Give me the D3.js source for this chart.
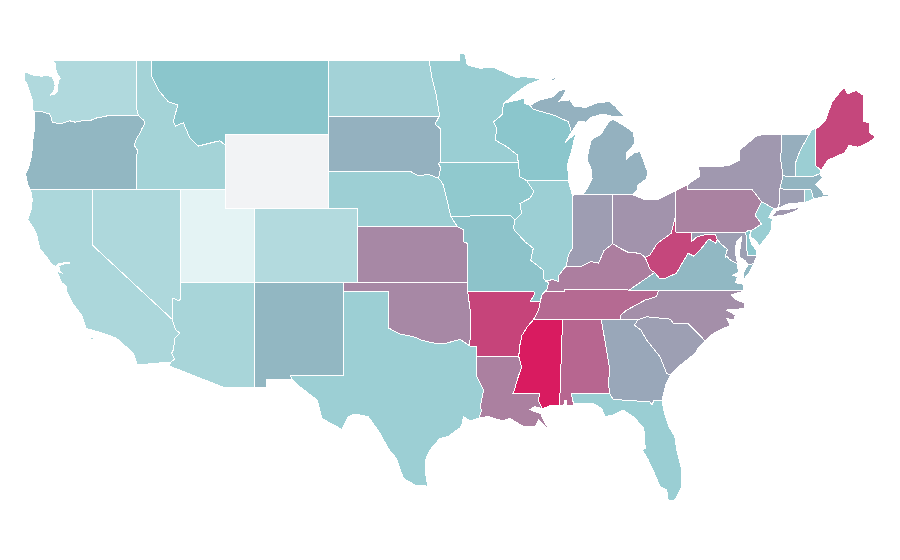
<!DOCTYPE html>
<html>
<head>
<meta charset="utf-8">
<script src="https://d3js.org/d3.v7.min.js"></script>
<style>
  body { margin: 0; background: #fff; }
  .state { stroke: #fff; stroke-width: 1; stroke-linejoin: round; shape-rendering: crispEdges; }
</style>
</head>
<body>
<div id="map"></div>
<script>
// colour value per state: 0 = pale, 1 = teal, 2 = crimson, null = no data
const stateNames = ["WA","OR","CA","NV","ID","MT","WY","UT","CO","AZ","NM","ND","SD","NE","KS","OK","TX","MN","IA","MO","AR","LA","WI","IL","MI","IN","OH","KY","TN","MS","AL","GA","FL","SC","NC","VA","WV","MD","DE","PA","NJ","NY","CT","RI","MA","VT","NH","ME"];
const stateValues = [0.58,1.09,0.63,0.61,0.72,1.0,null,0,0.55,0.67,1.09,0.73,1.12,0.8,1.36,1.36,0.81,0.83,0.94,1.02,1.76,1.41,1.0,0.81,1.12,1.24,1.30,1.42,1.54,2,1.56,1.18,0.83,1.23,1.32,1.08,1.74,1.23,1.0,1.40,0.83,1.27,1.23,0.76,1.1,1.14,0.82,1.74];

// shared borders, lon/lat
const columbia = [[-118.98,46],[-119.3,45.93],[-119.6,45.92],[-120.2,45.73],[-120.65,45.74],[-121.2,45.65],[-121.55,45.72],[-122,45.61],[-122.25,45.55],[-122.75,45.65],[-122.8,45.9],[-122.95,46.1],[-123.2,46.15],[-123.55,46.25],[-123.98,46.25]];
const snakeRiver = [[-117.03,42],[-117.03,43.83],[-116.95,44.1],[-117.2,44.4],[-117.05,44.75],[-116.85,45],[-116.67,45.3],[-116.47,45.6],[-116.55,45.75],[-116.92,46]];
const bitterroot = [[-116.05,49],[-116,48.1],[-115.56,47.38],[-114.89,46.75],[-114.25,46.57],[-114.55,45.67],[-114.39,45.44],[-113.87,45.62],[-113.42,44.78],[-112.86,44.36],[-111.4,44.65],[-111.05,44.42]];
const coloradoNv = [[-114.04,37],[-114.04,36.1],[-114.2,36.03],[-114.62,36.17],[-114.57,35.16],[-114.63,35.02]];
const coloradoCa = [[-114.63,35.02],[-114.39,34.45],[-114.1,34.27],[-114.44,34],[-114.55,33.37],[-114.66,33.2],[-114.45,32.87],[-114.72,32.72]];
const redRiver = [[-100,34.56],[-99.2,34.23],[-98.3,34.09],[-97.74,33.9],[-97.06,33.76],[-96.27,33.69],[-95.14,33.94],[-94.47,33.58]];
const sabine = [[-94.04,33.02],[-94.04,32],[-93.55,31.2],[-93.75,30.4],[-93.7,30.1],[-93.84,29.7]];
const redNd = [[-97.23,49],[-97.06,48.1],[-96.77,47.2],[-96.55,46.13],[-96.56,45.94]];
const bigStone = [[-96.56,45.94],[-96.83,45.55],[-96.45,45.28],[-96.45,43.5]];
const bigSioux = [[-96.45,43.5],[-96.6,43.43],[-96.45,43.18],[-96.6,42.62],[-96.45,42.49]];
const missouriSdNe = [[-104.05,43],[-98.5,43],[-97.96,42.75],[-97.28,42.84],[-96.6,42.62],[-96.45,42.49]];
const missouriNeIa = [[-96.45,42.49],[-96.27,42.26],[-96.04,41.54],[-95.82,40.74],[-95.77,40.58]];
const missouriNeMo = [[-95.77,40.58],[-95.31,40]];
const missouriKs = [[-95.31,40],[-94.9,39.84],[-94.9,39.2],[-94.6,39.1]];
const stCroix = [[-92.2,46.66],[-92.3,46.04],[-92.87,45.67],[-92.65,45.3],[-92.77,44.69],[-91.98,44.33],[-91.26,43.88],[-91.2,43.5]];
const missWiIa = [[-91.2,43.5],[-91.08,42.7],[-90.64,42.5]];
const missIaIl = [[-90.64,42.5],[-90.13,41.9],[-90.42,41.54],[-91.08,41.27],[-90.97,40.74],[-91.42,40.38]];
const missMoIl = [[-91.42,40.38],[-91.53,39.93],[-91.42,39.8],[-90.74,39.2],[-90.18,38.85],[-90.35,38.2],[-89.5,37.67],[-89.5,37.22],[-89.15,37]];
const missMoKy = [[-89.15,37],[-89.27,36.6],[-89.42,36.5]];
const missMoTn = [[-89.42,36.5],[-89.6,36.33],[-89.7,36]];
const missArTn = [[-89.7,36],[-89.83,35.5],[-90.17,35]];
const missArMs = [[-90.17,35],[-90.6,34.6],[-90.95,34.15],[-91.12,33.5],[-91.16,33]];
const missLaMs = [[-91.16,33],[-90.96,32.43],[-91.17,32],[-91.5,31.1],[-91.6,31]];
const pearl = [[-91.6,31],[-89.73,31],[-89.85,30.65],[-89.55,30.2]];
const wabash = [[-87.53,41.7],[-87.53,38.85],[-87.8,38.49],[-87.97,37.85]];
const ohioIlKy = [[-89.15,37],[-89.35,37.05],[-88.9,37.17],[-88.47,37.05],[-88.45,37.4],[-88.05,37.8],[-87.97,37.85]];
const ohioInKy = [[-87.97,37.85],[-86.97,37.85],[-86.3,38.13],[-85.75,38.05],[-85.4,38.72],[-84.8,39.1]];
const ohioOhKy = [[-84.8,39.1],[-84.3,38.85],[-83.75,38.63],[-82.95,38.58],[-82.6,38.35]];
const ohioWv = [[-82.6,38.35],[-82.27,38.5],[-81.8,39.1],[-80.85,39.66],[-80.65,40.3],[-80.52,40.64]];
const tugFork = [[-82.6,38.35],[-82.27,37.7],[-81.97,37.54]];
const wvVa = [[-77.72,39.32],[-77.83,39.13],[-78.3,39.35],[-78.87,38.77],[-79.3,38.42],[-79.7,38.58],[-80.5,37.5],[-81.2,37.25],[-81.6,37.2],[-81.97,37.54]];
const potomac = [[-76.35,38],[-76.9,38.25],[-77.05,38.4],[-77.2,38.35],[-77.04,38.8],[-77.5,39.1],[-77.72,39.32]];
const tnNc = [[-81.68,36.59],[-81.85,36.24],[-82.6,36.06],[-83.85,35.52],[-84.25,35.25],[-84.3,35]];
const savannah = [[-83.33,34.7],[-82.9,34.45],[-82.5,33.9],[-81.6,33],[-81.15,32.1],[-80.88,32.03]];
const alGa = [[-85.58,35],[-85.26,33.55],[-85,32.29],[-85.1,31.57],[-85,31]];
const mbSc = [[-78.55,33.86],[-79.7,34.8],[-80.7,34.8],[-80.9,35.03],[-82.5,35.16],[-83.1,35]];
const gaFl = [[-85,31],[-84.76,30.7],[-82.27,30.57],[-82.15,30.4],[-82,30.67],[-81.47,30.67]];
const lakeMiWi = [[-90.18,46.34],[-88.8,46.03],[-87.8,45.67],[-87.6,45.1]];
const delRiver = [[-74.73,41.36],[-75.17,40.65],[-74.73,40.15],[-75.13,39.95],[-75.42,39.8]];
const nyVt = [[-73.35,45],[-73.43,43.6],[-73.27,42.75]];
const nyMa = [[-73.27,42.75],[-73.5,42.05]];
const nyCt = [[-73.5,42.05],[-73.5,41.3],[-73.65,41]];
const ctRi = [[-71.8,42.02],[-71.8,41.32]];
const vtNh = [[-71.5,45],[-72.1,44.15],[-72.44,43.43],[-72.46,42.73]];
const wvMd = [[-79.48,39.72],[-79.48,39.2],[-79.1,39.47],[-78.75,39.55],[-78.3,39.6],[-77.85,39.58],[-77.72,39.32]];
const rev = a => a.slice().reverse();

// state outlines, each a list of rings
const outlines = {
  WA: [[[-122.76,49],[-117.03,49],[-117.04,46.42],[-116.92,46],...columbia,[-124.07,46.27],[-124.05,46.65],[-124.15,47],[-124.4,47.6],[-124.65,47.97],[-124.65,48.38],[-124.1,48.2],[-123.5,48.13],[-123.1,48.15],[-122.78,48.12],[-122.62,47.88],[-122.55,47.6],[-122.65,47.3],[-122.9,47.1],[-122.6,47.15],[-122.4,47.3],[-122.38,47.6],[-122.3,47.9],[-122.2,48],[-122.4,48.25],[-122.5,48.45],[-122.5,48.75]],
      [[-122.7,48.4],[-122.5,48.1],[-122.35,47.95],[-122.55,48.3]]],
  OR: [[...columbia,[-123.95,45.9],[-123.97,45.2],[-124.07,44.6],[-124.13,43.9],[-124.35,43.2],[-124.55,42.84],[-124.4,42.3],[-124.21,42],[-117.03,42],...snakeRiver]],
  CA: [[[-124.21,42],[-120,42],[-120,39],...coloradoCa,[-117,32.56],[-117.25,33.2],[-118.4,34],[-119.3,34.27],[-120.45,34.53],[-120.65,35],[-120.75,35.25],[-121.3,35.8],[-121.8,36.55],[-121.75,36.78],[-122.1,37],[-122.38,37.5],[-122.45,37.78],[-122.35,37.6],[-122.05,37.5],[-122.25,37.65],[-122.3,37.9],[-122,38],[-121.55,38.06],[-122,38.06],[-122.38,38],[-122.5,37.85],[-122.85,38.05],[-123.1,38.35],[-123.6,38.85],[-123.8,39.6],[-124.1,40.05],[-124.4,40.4],[-124.15,41],[-124.1,41.5]],
      [[-120.15,34],[-119.95,34.05],[-119.95,33.93],[-120.15,33.92]]],
  NV: [[[-120,42],[-114.04,42],...coloradoNv,[-120,39]]],
  ID: [[[-117.03,49],...bitterroot,[-111.05,42],...snakeRiver,[-117.04,46.42]]],
  MT: [[...bitterroot,[-111.05,45],[-104.05,45],[-104.05,49]]],
  WY: [[[-111.05,45],[-104.05,45],[-104.05,41],[-111.05,41]]],
  UT: [[[-114.04,42],[-111.05,42],[-111.05,41],[-109.05,41],[-109.05,37],[-114.04,37]]],
  CO: [[[-109.05,41],[-102.05,41],[-102.05,37],[-109.05,37]]],
  AZ: [[[-114.04,37],[-109.05,37],[-109.05,31.33],[-111.07,31.33],[-114.81,32.5],...rev(coloradoCa),...rev(coloradoNv)]],
  NM: [[[-109.05,37],[-103,37],[-103.04,32],[-106.62,32],[-106.53,31.78],[-108.21,31.78],[-108.21,31.33],[-109.05,31.33]]],
  ND: [[[-104.05,49],...redNd,[-104.05,45.94]]],
  SD: [[[-104.05,45.94],...bigStone,...bigSioux,...rev(missouriSdNe)]],
  NE: [[...missouriSdNe,...missouriNeIa,...missouriNeMo,[-102.05,40],[-102.05,41],[-104.05,41]]],
  KS: [[[-102.05,40],...missouriKs,[-94.62,37],[-102.05,37]]],
  OK: [[[-103,37],[-94.62,37],[-94.62,36.5],[-94.43,35.4],...rev(redRiver),[-100,36.5],[-103.04,36.5]]],
  TX: [[[-103.04,36.5],[-100,36.5],...redRiver,[-94.04,33.55],...sabine,[-94.45,29.55],[-94.9,29.77],[-95,29.4],[-95.14,29.17],[-95.95,28.7],[-96.5,28.6],[-97.2,27.95],[-97.5,27.4],[-97.5,26.8],[-97.3,25.95],[-97.4,26.03],[-98.18,26.08],[-98.98,26.45],[-99.43,27.5],[-100,28.05],[-100.55,28.87],[-101.35,29.77],[-102.25,29.92],[-102.7,29.77],[-103.15,29.09],[-104.5,29.68],[-104.8,30.66],[-106,31.4],[-106.53,31.78],[-106.62,32],[-103.04,32]]],
  MN: [[...rev(redNd).slice(-1),[-95.15,49],[-95.15,49.38],[-94.82,49.33],[-94.65,48.74],[-93.8,48.55],[-92.95,48.62],[-92,48.3],[-91.4,48.07],[-90.75,48.1],[-89.6,47.98],[-90.6,47.65],[-91.3,47.25],[-92.05,46.75],...stCroix,[-96.45,43.5],...rev(bigStone),...rev(redNd)]],
  IA: [[[-96.45,43.5],[-91.2,43.5],...missWiIa,...missIaIl,[-91.73,40.61],[-95.77,40.58],...rev(missouriNeIa),...rev(bigSioux)]],
  MO: [[[-95.77,40.58],[-91.73,40.61],...missMoIl,...missMoKy,...missMoTn,[-90.37,36],[-90.07,36.4],[-90.15,36.5],[-94.62,36.5],[-94.62,37],...rev(missouriKs),...rev(missouriNeMo)]],
  AR: [[[-94.62,36.5],[-90.15,36.5],[-90.07,36.4],[-90.37,36],...missArTn,...missArMs,[-94.04,33.02],[-94.04,33.55],[-94.47,33.58],[-94.43,35.4]]],
  LA: [[[-94.04,33.02],...missLaMs,...pearl,[-90.1,30.32],[-90.42,30.15],[-89.95,30.02],[-89.6,29.9],[-89.6,29.78],[-89.15,29.1],[-89.83,29.6],[-90.05,29.24],[-90.85,29.24],[-91.75,29.68],[-92.3,29.55],[-93.22,29.78],...rev(sabine)]],
  WI: [[[-92.2,46.66],[-92,46.7],[-91.2,46.85],[-90.8,46.95],[-90.75,46.65],[-90.4,46.55],...lakeMiWi,[-88.03,44.55],[-87.6,44.85],[-87.25,45.1],[-87.45,44.6],[-87.55,44.2],[-87.85,43.4],[-87.8,42.5],...rev(missWiIa),...rev(stCroix)]],
  IL: [[[-90.64,42.5],[-87.8,42.5],...wabash,...rev(ohioIlKy),...rev(missMoIl),...rev(missIaIl)]],
  MI: [[[-86.82,41.76],[-86.5,42.1],[-86.2,42.6],[-86.25,43.1],[-86.53,43.6],[-86.45,44.1],[-86.25,44.7],[-85.6,45],[-85,45.75],[-84.75,45.78],[-84.1,45.5],[-83.4,45.1],[-83.3,44.5],[-83.9,43.95],[-83.9,43.65],[-83.35,44],[-82.95,44.07],[-82.45,43],[-82.5,42.6],[-83.1,42.25],[-83.15,42],[-83.45,41.73],[-84.8,41.76]],
      [[-90.4,46.55],[-89.75,46.85],[-88.9,47],[-88.4,47.35],[-87.9,47.45],[-88.2,47],[-88.45,46.78],[-87.7,46.85],[-87.4,46.5],[-86.6,46.45],[-85.9,46.68],[-85,46.77],[-84.6,46.47],[-84.1,46.03],[-83.9,45.97],[-84.7,45.95],[-85.5,46.08],[-86.3,45.9],[-86.6,45.65],[-87.1,45.7],...rev(lakeMiWi)],
      [[-89.2,47.87],[-88.45,48.17],[-88.8,47.9]]],
  IN: [[[-87.53,41.7],[-87.2,41.76],[-84.8,41.76],[-84.8,39.1],...rev(ohioInKy),...rev(wabash)]],
  OH: [[[-84.8,41.76],[-83.45,41.73],[-82.7,41.5],[-81.7,41.5],[-80.52,41.98],...rev(ohioWv),...rev(ohioOhKy)]],
  KY: [[...ohioIlKy,...ohioInKy,...ohioOhKy,...tugFork,[-83.68,36.6],[-88.07,36.65],[-88.07,36.5],[-89.42,36.5],...rev(missMoKy)]],
  TN: [[[-83.68,36.6],[-88.07,36.65],[-88.07,36.5],[-89.42,36.5],...missMoTn,...missArTn,[-88.2,35],[-84.3,35],...rev(tnNc)]],
  MS: [[[-90.17,35],[-88.2,35],[-88.4,30.37],[-89.1,30.35],...rev(pearl),...rev(missLaMs),...rev(missArMs)]],
  AL: [[[-88.2,35],...alGa,[-87.6,31],[-87.45,30.4],[-87.9,30.35],[-87.9,30.65],[-88.05,30.65],[-88.13,30.35],[-88.4,30.37]]],
  GA: [[...alGa,...gaFl,[-81.3,31.2],[-81.2,31.5],...rev(savannah),[-83.1,35]]],
  FL: [[...gaFl,[-81.3,29.95],[-81,29.24],[-80.6,28.7],[-80.47,27.97],[-80.13,26.9],[-80.13,26],[-80.6,25.28],[-81.05,25.28],[-81.15,25.82],[-81.6,26],[-81.93,26.63],[-82.4,27.44],[-82.8,27.97],[-82.6,28.07],[-82.7,29.15],[-83.4,29.77],[-84.1,30.14],[-84.76,29.87],[-85.3,29.77],[-85.55,30.2],[-86.1,30.48],[-87.45,30.48],[-87.6,31]]],
  SC: [[...mbSc,[-83.33,34.7],...savannah,[-80.3,32.5],[-79.6,32.95],[-79.2,33.2],[-79,33.5]]],
  NC: [[...tnNc,[-83.1,35],...rev(mbSc),[-78,34.25],[-76.85,34.7],[-77.1,35.07],[-76.6,34.98],[-76.5,35.25],[-77.1,35.52],[-75.85,35.6],[-75.85,35.88],[-76.5,36.1],[-76.8,36.33],[-75.9,36.55]]],
  VA: [[[-83.68,36.6],[-81.68,36.59],[-75.9,36.55],[-76,36.92],[-76.3,36.95],[-76.5,37],[-76.35,37.3],[-76.7,37.4],[-76.3,37.55],...potomac,...wvVa],
      [[-75.65,37.95],[-75.24,38.03],[-75.6,37.5],[-75.95,37.15],[-75.95,37.55]]],
  WV: [[[-80.52,40.64],[-80.52,39.72],...wvMd,...wvVa,...rev(tugFork),...ohioWv]],
  MD: [[...wvMd.slice(0,1),[-75.79,39.72],[-75.69,38.46],[-75.05,38.45],[-75.24,38.03],[-75.65,37.95],[-75.85,38.2],[-76.2,38.35],[-76.2,38.75],[-76.1,39.3],[-76.05,39.5],[-76.4,39.2],[-76.5,38.9],[-76.45,38.4],...potomac,...rev(wvMd)]],
  DE: [[[-75.79,39.72],[-75.6,39.83],[-75.42,39.8],[-75.55,39.5],[-75.4,39.05],[-75.09,38.78],[-75.05,38.45],[-75.69,38.46]]],
  PA: [[[-80.52,41.98],[-79.76,42.27],[-79.76,42],[-75.35,42],...delRiver,[-75.6,39.83],[-75.79,39.72],[-80.52,39.72]]],
  NJ: [[...delRiver,[-75.5,39.5],[-75.05,39.2],[-74.9,38.93],[-74.1,39.75],[-74,40.45],[-74.25,40.5],[-73.9,41]]],
  NY: [[[-79.76,42.27],[-79.76,42],[-75.35,42],[-74.73,41.36],[-73.9,41],...rev(nyCt),...rev(nyMa),...rev(nyVt),[-75,44.95],[-75.4,44.69],[-76.2,44.15],[-76.2,43.6],[-76.85,43.34],[-77.5,43.25],[-79,43.25],[-78.9,42.75]],
      [[-74,40.6],[-73.7,40.9],[-72.6,40.98],[-72,41.1],[-72.5,40.82],[-73.3,40.62],[-74,40.56]]],
  CT: [[[-73.5,42.05],...ctRi,[-72.9,41.25],[-73.65,41],[-73.5,41.3]]],
  RI: [[...ctRi,[-71.2,41.5],[-71.38,42.02]]],
  MA: [[...nyMa.slice(0,1),[-72.46,42.73],[-71.3,42.7],[-70.8,42.87],[-70.6,42.65],[-71.05,42.3],[-70.65,41.95],[-70.5,41.76],[-70,41.76],[-70,41.7],[-70.6,41.62],[-71.2,41.5],[-71.38,42.02],[-71.8,42.02],[-73.5,42.05]]],
  VT: [[...nyVt,[-72.46,42.73],...rev(vtNh)]],
  NH: [[...vtNh,[-71.3,42.7],[-70.8,42.87],[-70.7,43.05],[-71.05,43.3],[-71.05,45.3],[-71.33,45.25]]],
  ME: [[[-71.05,45.3],[-70.8,45.4],[-70.4,45.75],[-70.2,46.2],[-69.95,46.75],[-69.23,47.46],[-69.05,47.43],[-68.9,47.18],[-68.3,47.36],[-67.8,47.07],[-67.8,45.7],[-67.45,45.6],[-67.45,45.1],[-66.97,44.85],[-67.6,44.5],[-68.2,44.3],[-68.8,44.4],[-69.1,44],[-69.8,43.75],[-70.25,43.6],[-70.7,43.05],[-71.05,43.3]]]
};

const width = 900, height = 560;
const x = d3.scaleLinear().domain([-111.05, -104.05]).range([225, 328.4]);
const y = d3.scaleLinear().domain([49, 41]).range([60, 208.4]);
const color = d3.scaleLinear().domain([0, 1, 2]).range(["#e4f3f4", "#8bc6cc", "#d91b60"]);
const noData = "#f2f3f5";

const path = d3.geoPath(d3.geoTransform({
  point: function(lon, lat) { this.stream.point(x(lon), y(lat)); }
}));

const svg = d3.select("#map").append("svg")
  .attr("width", width)
  .attr("height", height);

const features = stateNames.map((name, i) => ({
  type: "Feature",
  properties: { name: name, value: stateValues[i] },
  geometry: { type: "MultiPolygon", coordinates: outlines[name].map(r => [r.concat([r[0]])]) }
}));

svg.selectAll("path")
  .data(features)
  .join("path")
  .attr("class", "state")
  .attr("d", path)
  .attr("fill", d => d.properties.value === null ? noData : color(d.properties.value));
</script>
</body>
</html>
